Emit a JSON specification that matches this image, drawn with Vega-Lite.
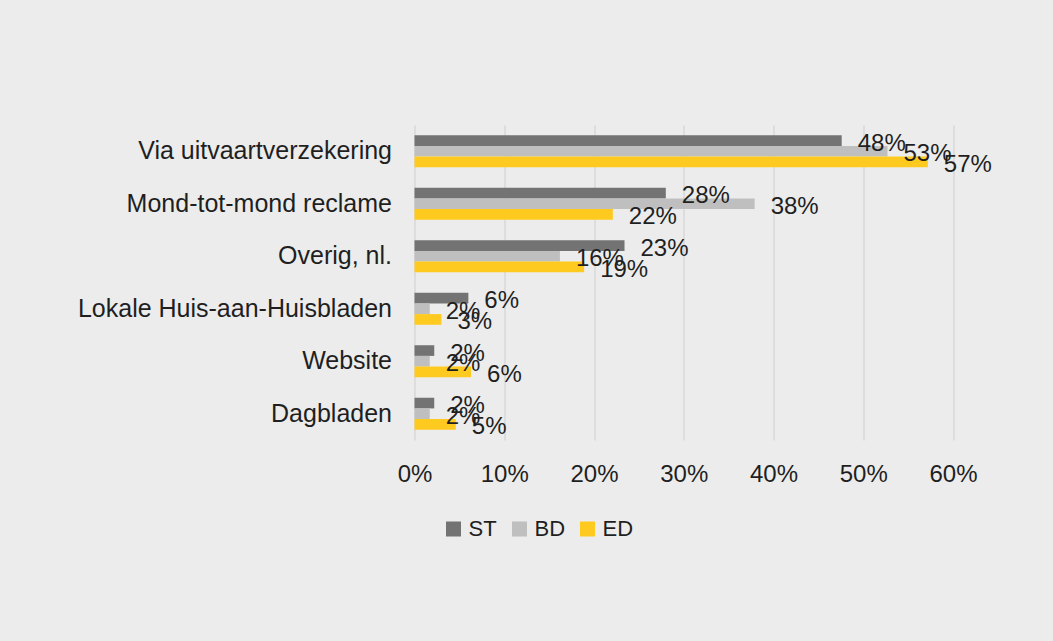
{
  "$schema": "https://vega.github.io/schema/vega-lite/v6.json",
  "autosize": "none",
  "width": 538.5,
  "height": 315,
  "padding": {"left": 414.5, "top": 125, "right": 100, "bottom": 201},
  "background": "#ececec",
  "config": {"view": {"stroke": null}, "font": "Liberation Sans", "text": {"font": "Liberation Sans"}},
  "data": {
    "values": [
      {"category": "Via uitvaartverzekering", "series": "ST", "value": 0.476},
      {"category": "Via uitvaartverzekering", "series": "BD", "value": 0.527},
      {"category": "Via uitvaartverzekering", "series": "ED", "value": 0.572},
      {"category": "Mond-tot-mond reclame", "series": "ST", "value": 0.28},
      {"category": "Mond-tot-mond reclame", "series": "BD", "value": 0.379},
      {"category": "Mond-tot-mond reclame", "series": "ED", "value": 0.221},
      {"category": "Overig, nl.", "series": "ST", "value": 0.234},
      {"category": "Overig, nl.", "series": "BD", "value": 0.162},
      {"category": "Overig, nl.", "series": "ED", "value": 0.189},
      {"category": "Lokale Huis-aan-Huisbladen", "series": "ST", "value": 0.06},
      {"category": "Lokale Huis-aan-Huisbladen", "series": "BD", "value": 0.017},
      {"category": "Lokale Huis-aan-Huisbladen", "series": "ED", "value": 0.03},
      {"category": "Website", "series": "ST", "value": 0.022},
      {"category": "Website", "series": "BD", "value": 0.017},
      {"category": "Website", "series": "ED", "value": 0.063},
      {"category": "Dagbladen", "series": "ST", "value": 0.022},
      {"category": "Dagbladen", "series": "BD", "value": 0.017},
      {"category": "Dagbladen", "series": "ED", "value": 0.046}
    ]
  },
  "encoding": {
    "y": {
      "field": "category",
      "type": "nominal",
      "sort": ["Via uitvaartverzekering", "Mond-tot-mond reclame", "Overig, nl.", "Lokale Huis-aan-Huisbladen", "Website", "Dagbladen"],
      "scale": {"paddingInner": 0.39, "paddingOuter": 0.195},
      "axis": {"title": null, "domain": false, "ticks": false, "grid": false, "labelFontSize": 25, "labelColor": "#1f1f1f", "labelPadding": 23, "labelLimit": 0, "labelFont": "Liberation Sans"}
    },
    "yOffset": {
      "field": "series",
      "type": "nominal",
      "sort": ["ST", "BD", "ED"],
      "scale": {"paddingInner": 0, "paddingOuter": 0}
    },
    "x": {
      "field": "value",
      "type": "quantitative",
      "scale": {"domain": [0, 0.6], "nice": false},
      "axis": {
        "title": null,
        "format": ".0%",
        "values": [0, 0.1, 0.2, 0.3, 0.4, 0.5, 0.6],
        "domain": false,
        "ticks": false,
        "grid": true,
        "gridColor": "#d9d9d9",
        "gridWidth": 1.5,
        "labelFlush": false,
        "labelFontSize": 24,
        "labelColor": "#1f1f1f",
        "labelPadding": 22,
        "labelFont": "Liberation Sans"
      }
    }
  },
  "layer": [
    {
      "mark": {"type": "bar"},
      "encoding": {
        "color": {
          "field": "series",
          "type": "nominal",
          "sort": ["ST", "BD", "ED"],
          "scale": {"domain": ["ST", "BD", "ED"], "range": ["#737373", "#bfbfbf", "#ffca1f"]},
          "legend": {
            "title": null,
            "orient": "none",
            "direction": "horizontal",
            "legendX": 28,
            "legendY": 393,
            "symbolType": "square",
            "symbolSize": 225,
            "symbolStrokeWidth": 0,
            "labelFontSize": 22,
            "labelColor": "#1f1f1f",
            "labelFont": "Liberation Sans",
            "labelOffset": 4,
            "columnPadding": 11
          }
        }
      }
    },
    {
      "mark": {"type": "text", "align": "left", "baseline": "middle", "dx": 16, "dy": 3, "fontSize": 24, "color": "#1f1f1f", "font": "Liberation Sans"},
      "encoding": {
        "text": {"field": "value", "type": "quantitative", "format": ".0%"}
      }
    }
  ]
}
